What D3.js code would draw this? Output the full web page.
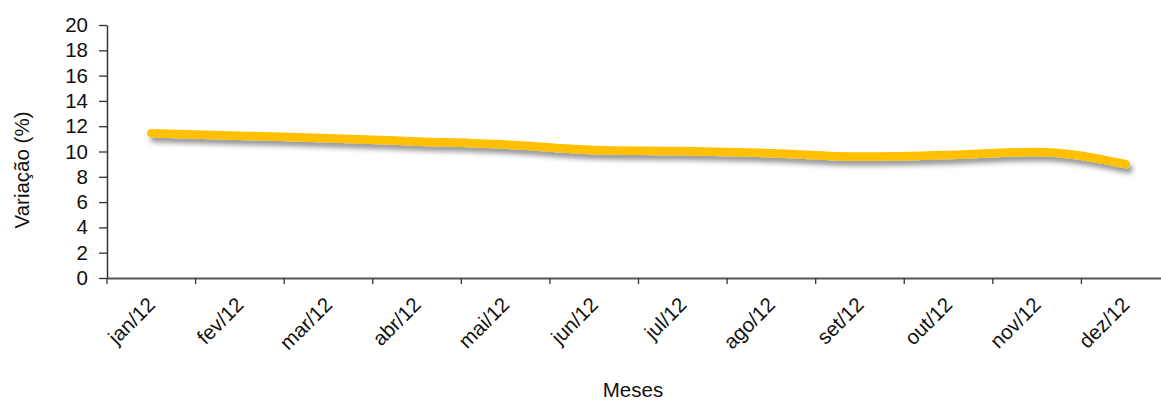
<!DOCTYPE html>
<html><head><meta charset="utf-8">
<script src="https://cdn.jsdelivr.net/npm/d3@7"></script>
<style>body{margin:0;background:#fff}svg{display:block}text{font-family:"Liberation Sans",Arial,sans-serif}</style>
</head><body>
<svg id="c" width="1161" height="401"></svg>
<script>
const months = ["jan/12","fev/12","mar/12","abr/12","mai/12","jun/12","jul/12","ago/12","set/12","out/12","nov/12","dez/12"];
const values = [11.45, 11.25, 11.05, 10.8, 10.55, 10.12, 10.03, 9.87, 9.6, 9.72, 9.97, 9.0];
const yTicks = [0,2,4,6,8,10,12,14,16,18,20];

const svg = d3.select("#c");
const m = {left:107, top:25, right:1170, bottom:278};
const x = d3.scaleBand().domain(months).range([m.left, m.right]);
const y = d3.scaleLinear().domain([0,20]).range([m.bottom, m.top]);
const FS = 20.5;

const defs = svg.append("defs");
const f = defs.append("filter").attr("id","sh").attr("x","-10%").attr("y","-50%").attr("width","120%").attr("height","300%");
f.append("feDropShadow").attr("dx",3).attr("dy",5).attr("stdDeviation",2.5).attr("flood-color","#000").attr("flood-opacity",0.4);

// line
const line = d3.line().x(d=>x(d.m)+x.bandwidth()/2).y(d=>y(d.v)).curve(d3.curveMonotoneX);
svg.append("path").datum(months.map((mm,i)=>({m:mm,v:values[i]})))
  .attr("d",line).attr("fill","none").attr("stroke","#FFC000").attr("stroke-width",8.5)
  .attr("stroke-linecap","round").attr("stroke-linejoin","round").attr("filter","url(#sh)");

// y axis
const ya = svg.append("g").attr("transform",`translate(${m.left},0)`)
  .call(d3.axisLeft(y).tickValues(yTicks).tickSize(8).tickPadding(11).tickSizeOuter(0));
ya.select(".domain").attr("stroke","#333").attr("stroke-width",1.5);
ya.selectAll(".tick line").attr("stroke","#333").attr("stroke-width",1.3);
ya.selectAll(".tick text").attr("font-size",FS).attr("fill","#111").attr("font-family","Liberation Sans, Arial, sans-serif");

// x axis
const xa = svg.append("g").attr("transform",`translate(0,${m.bottom})`)
  .call(d3.axisBottom(x).tickSize(0).tickSizeOuter(0));
xa.select(".domain").attr("stroke","#555").attr("stroke-width",2);
// boundary ticks
const bounds = d3.range(months.length+1).map(i=> i<months.length ? x(months[i]) : x(months[i-1])+x.bandwidth());
xa.selectAll(".bt").data(bounds).enter().append("line").attr("class","bt")
  .attr("x1",d=>d).attr("x2",d=>d).attr("y1",0).attr("y2",6).attr("stroke","#333").attr("stroke-width",1.3);
xa.selectAll(".tick text").attr("font-size",FS).attr("fill","#111")
  .attr("font-family","Liberation Sans, Arial, sans-serif")
  .attr("text-anchor","end").attr("dy",0).attr("y",0)
  .attr("transform","translate(5,28) rotate(-45)");

// titles
svg.append("text").attr("x",633).attr("y",397).attr("text-anchor","middle").attr("font-size",FS).attr("fill","#111").text("Meses");
svg.append("text").attr("transform","translate(29,170) rotate(-90)").attr("text-anchor","middle").attr("font-size",FS).attr("fill","#111").text("Variação (%)");
</script>
</body></html>
